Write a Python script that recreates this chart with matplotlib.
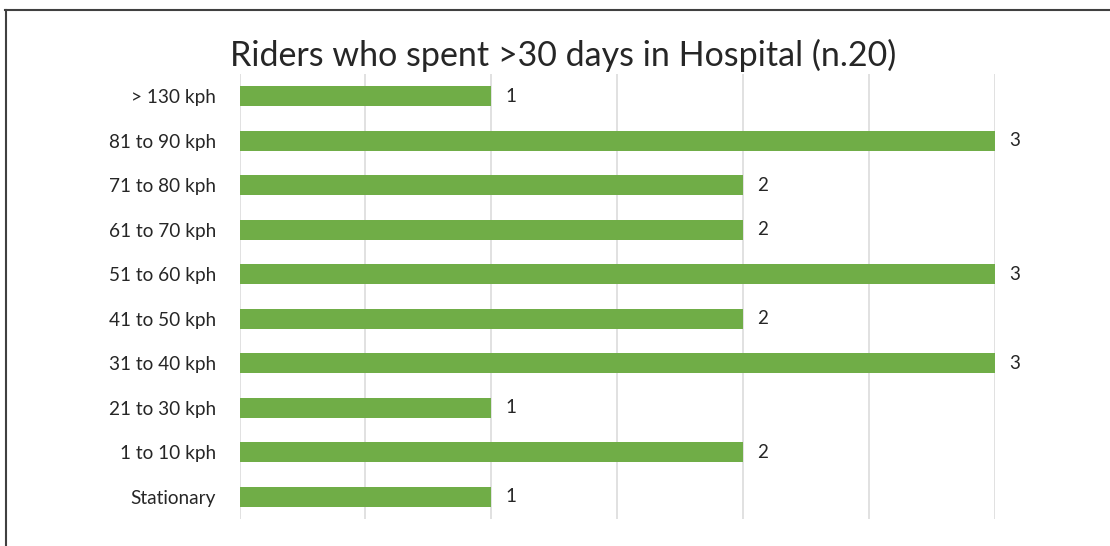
import matplotlib
matplotlib.use('Agg')
import matplotlib.pyplot as plt
from matplotlib.lines import Line2D

plt.rcParams['font.family'] = ['Lato', 'DejaVu Sans']

# data, bottom to top
categories = ['Stationary', '1 to 10 kph', '21 to 30 kph', '31 to 40 kph', '41 to 50 kph',
              '51 to 60 kph', '61 to 70 kph', '71 to 80 kph', '81 to 90 kph', '> 130 kph']
riders = [1, 2, 1, 3, 2, 3, 2, 2, 3, 1]

W, H = 1110, 546
fig = plt.figure(figsize=(W / 100, H / 100), dpi=100)
ax = fig.add_axes([239.5 / W, 1 - 519 / H, (995 - 239.5) / W, (519 - 74) / H])

green = '#70AD47'
text_c = '#262626'

y = range(len(categories))
ax.barh(y, riders, height=0.44, color=green, zorder=3)
for yi, v in zip(y, riders):
    ax.text(v + 0.055, yi, str(v), va='center', ha='left', fontsize=13.5, color=text_c, clip_on=False)

ax.set_xlim(0, 3)
ax.set_ylim(-0.5, len(categories) - 0.5)
ax.set_xticks([0, 0.5, 1, 1.5, 2, 2.5, 3])
ax.xaxis.grid(True, color='#D9D9D9', linewidth=1.1, zorder=0)
ax.tick_params(axis='x', length=0, labelbottom=False)
ax.tick_params(axis='y', length=0, pad=17, labelsize=13.7, labelcolor=text_c)
ax.set_yticks(list(y))
ax.set_yticklabels(categories)
for s in ax.spines.values():
    s.set_visible(False)

fig.text(563 / W, 1 - 55 / H, 'Riders who spent >30 days in Hospital (n.20)',
         ha='center', va='center', fontsize=24.5, color=text_c)

# frame (top and left edges visible in the reference)
fig.add_artist(Line2D([5 / W, 1], [1 - 9.5 / H, 1 - 9.5 / H], transform=fig.transFigure,
                      color='#404040', linewidth=1.5))
fig.add_artist(Line2D([5.5 / W, 5.5 / W], [0, 1 - 9.5 / H], transform=fig.transFigure,
                      color='#404040', linewidth=1.5))

fig.savefig('out.png', dpi=100)
